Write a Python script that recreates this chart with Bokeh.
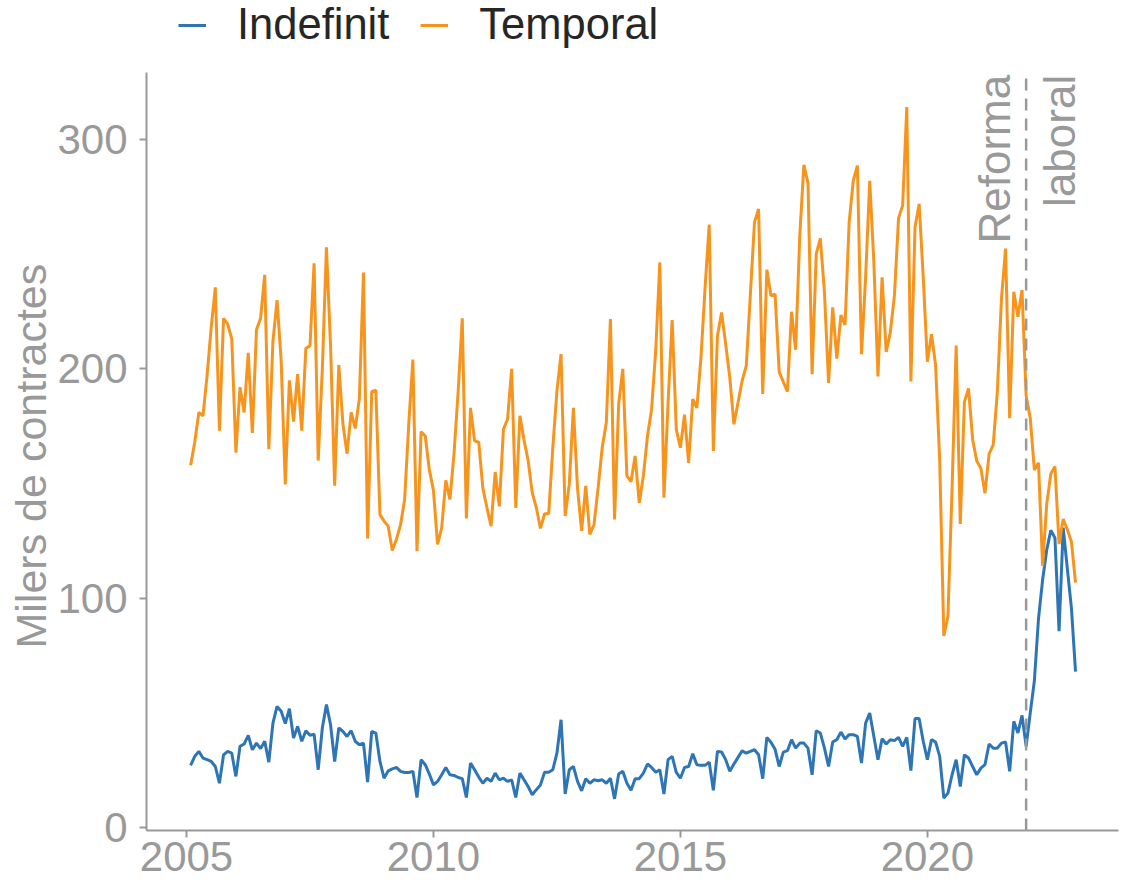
import math
from bokeh.plotting import figure
from bokeh.models import Range1d, FixedTicker, Legend, LegendItem, Title
from bokeh.core.properties import value
from bokeh.embed import file_html
from bokeh.resources import INLINE

# ---------------- data (thousands of contracts, monthly from Jan 2005) ----------------
start_year = 2005
start_month = 1

temporal = [
    158, 168, 181, 179.5, 197, 218, 235.5, 173, 222, 219.5, 213, 163.5,
    192, 181, 207, 172, 217, 222, 241, 165, 212, 230, 203.5, 149.6,
    195, 177, 197.7, 173, 209, 210, 246, 160, 200, 253, 210, 149,
    201.7, 176, 163, 181, 174, 187, 242, 126, 190, 190.7, 136.5, 133.6,
    131.4, 120.8, 125.6, 132, 143, 176, 204, 120.5, 172.6, 170.7, 156, 147,
    123.4, 130.7, 151.4, 143, 163, 190, 222, 134.8, 183, 168.6, 168, 148,
    139.4, 131.4, 155, 140, 173.6, 178, 200, 139.4, 179.5, 169, 160, 146,
    139.4, 130.4, 136.8, 136.8, 165.6, 190.4, 206.4, 135.8, 149.6, 183, 148, 129.3,
    149, 127.8, 132, 148, 165.6, 176.6, 221.7, 134.3, 184.6, 200, 153.3, 150.8,
    162, 141.6, 153.3, 170.7, 182.4, 207.9, 246.4, 143.8, 185, 221.3, 173.6, 165.6,
    180, 159, 186.8, 183, 205, 235.5, 262.9, 164.2, 214.4, 224.6, 210.8, 196.2,
    175.8, 185.3, 194.8, 201.3, 232.6, 263.9, 269.7, 189, 243.2, 231.9, 232.6, 198.7,
    194.3, 190, 224.9, 208.3, 258, 288.9, 281, 197.7, 250, 256.9, 233.3, 193.8,
    226.8, 204.5, 223.4, 219.1, 263.9, 282, 288.6, 206.4, 240, 282, 246.4, 196.7,
    239.9, 207.4, 215.9, 231.9, 265.6, 271.2, 314.1, 194.5, 261.7, 271.9, 240, 203.1,
    215.1, 201.8, 160, 83.5, 92.1, 147.6, 210.2, 132.4, 185.6, 191.5, 169.2, 159.8,
    156.7, 145.7, 162.9, 166.8, 189.8, 230.5, 252.4, 178.5, 233.6, 222.7, 234.4, 188.3,
    178.5, 155.9, 159, 114, 141, 154.3, 157.4, 123.6, 134.5, 129.9, 124.6, 106.8,
]

indefinit = [
    27.1, 31, 33.2, 30.3, 29.6, 28.8, 26.6, 19.3, 31.7, 33.2, 32.4, 22.3,
    35.4, 36.4, 40.2, 33.9, 36.8, 34.4, 37.6, 28.5, 45.5, 52.8, 50.7, 45.3,
    51.8, 39, 44.1, 37.6, 42.2, 40.2, 40.7, 25.2, 43.4, 53.6, 44.8, 28.8,
    43.4, 41.9, 39.7, 42.2, 37.6, 36.1, 36.8, 19.8, 41.9, 41.2, 28.8, 21.5,
    24.7, 25.6, 26.2, 24.5, 24, 24, 24.5, 13.1, 29.6, 27.4, 23.3, 18.6,
    20.1, 23, 26.2, 23, 22.7, 21.8, 21.3, 13.1, 28.1, 25.2, 22, 19.3,
    21.5, 20.1, 23.7, 20.8, 21.5, 20.1, 20.8, 13.1, 23.7, 20.8, 17.9, 14.3,
    16.5, 18.6, 24.1, 24.1, 25.2, 32.4, 47, 14.6, 25.2, 26.6, 20.1, 16,
    21.3, 19.3, 20.8, 20.4, 20.8, 19.3, 21.5, 12.5, 23.3, 24.5, 19.3, 16.2,
    21.3, 21.3, 23.7, 27.7, 26.2, 24.1, 25.2, 14.6, 29.6, 31, 24, 21.5,
    26.2, 26.6, 32.2, 27.4, 27.1, 27.1, 28.5, 16.2, 33.2, 32.9, 29.6, 24.5,
    27.7, 30.6, 33.5, 32.4, 33.2, 33.9, 31.7, 21.3, 39.3, 37.2, 34.1, 26.6,
    32.9, 33.5, 38.3, 34.6, 36.8, 36.8, 34.6, 23, 42.2, 41.2, 34.6, 26.6,
    37.3, 38.3, 41.6, 38.6, 40.5, 40.5, 39.7, 28.1, 45.5, 49.9, 39.7, 29.6,
    38.7, 36.4, 38.3, 37.9, 39.3, 35.4, 39.3, 24.8, 47.5, 47.5, 37.6, 29.6,
    38.3, 37.3, 31, 12.8, 15, 23, 29.6, 17.9, 31.7, 30.3, 26.6, 23,
    25.9, 27.4, 36.4, 34.6, 34.6, 36.8, 37.3, 24.5, 46.3, 41.2, 48.9, 35.4,
    50, 64, 91, 108, 121, 129.6, 126.3, 85.6, 130.7, 113, 95.8, 68,
]

series_labels = ["Indefinit", "Temporal"]
series_colors = ["#2E75B6", "#F7941D"]
x_ticks = [2005, 2010, 2015, 2020]
y_ticks = [0, 100, 200, 300]
y_title = "Milers de contractes"
reform_year = 2022.0
annot_labels = ["Reforma", "laboral"]

# ---------------- figure ----------------
n = len(temporal)
t = [start_year + (start_month + i) / 12 for i in range(n)]

FONT = "Liberation Sans"
GREY = "#999999"
Y_LOW, Y_AXIS_TOP, Y_HIGH = -1.3, 329.4, 360.6

p = figure(width=1126, height=893, output_backend="svg", toolbar_location=None,
           x_range=Range1d(2004.19, 2023.87), y_range=Range1d(Y_LOW, Y_HIGH),
           min_border_left=146, min_border_right=8, min_border_top=0,
           min_border_bottom=63)
p.outline_line_color = None
p.background_fill_color = "white"
p.border_fill_color = "white"
p.xgrid.visible = False
p.ygrid.visible = False

p.xaxis.ticker = FixedTicker(ticks=x_ticks)
p.yaxis.ticker = FixedTicker(ticks=y_ticks)
p.yaxis.bounds = (Y_LOW, Y_AXIS_TOP)
for ax in (p.xaxis, p.yaxis):
    ax.axis_line_color = GREY
    ax.axis_line_width = 2
    ax.major_tick_line_color = GREY
    ax.major_tick_line_width = 2
    ax.major_tick_out = 7
    ax.major_tick_in = 0
    ax.minor_tick_line_color = None
    ax.major_label_text_font = FONT
    ax.major_label_text_font_size = "42px"
    ax.major_label_text_color = GREY
p.xaxis.major_label_standoff = 4
p.yaxis.major_label_standoff = 12

# y-axis title, placed along the axis line span (not the whole frame)
p.add_layout(Title(text=y_title, align="left", offset=182, standoff=0,
                   text_font=FONT, text_font_size="43px",
                   text_font_style="normal", text_color=GREY), "left")

r_ind = p.line(t, indefinit, line_color=series_colors[0], line_width=3)
r_tem = p.line(t, temporal, line_color=series_colors[1], line_width=3)

p.segment(x0=[reform_year], y0=[Y_LOW], x1=[reform_year], y1=[Y_AXIS_TOP],
          line_color=GREY, line_dash="12 8", line_width=2.5)

p.text(x=[reform_year], y=[328.2], text=[annot_labels[0]], angle=math.pi / 2,
       text_align="right", text_baseline="alphabetic", x_offset=-32,
       text_font=value(FONT), text_font_size="44px", text_color=GREY)
p.text(x=[reform_year], y=[328.2], text=[annot_labels[1]], angle=math.pi / 2,
       text_align="right", text_baseline="alphabetic", x_offset=33,
       text_font=value(FONT), text_font_size="44px", text_color=GREY)

legend = Legend(items=[LegendItem(label=series_labels[0], renderers=[r_ind]),
                       LegendItem(label=series_labels[1], renderers=[r_tem])],
                orientation="horizontal", location=(32, 781))
legend.label_text_font = FONT
legend.label_text_font_size = "43.5px"
legend.label_text_color = "#262626"
legend.glyph_width = 28
legend.label_standoff = 31
legend.spacing = 31
legend.padding = 0
legend.margin = 0
legend.border_line_color = None
legend.background_fill_alpha = 0
p.add_layout(legend, "center")

open("out.html", "w").write(file_html(p, INLINE))
